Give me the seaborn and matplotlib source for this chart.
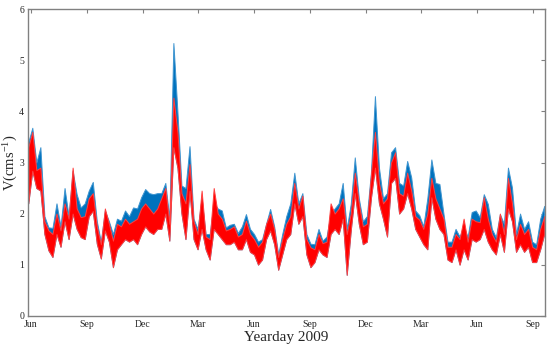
import numpy as np
import pandas as pd
import matplotlib
matplotlib.use("Agg")
import matplotlib.pyplot as plt
import seaborn as sns

# sampling grid in yearday 2009 (one sample every ~6.6 days)
days = 147.5 + 6.6 * np.arange(129)

# upper edge of the blue record
blue_hi = [3.4, 3.68, 3.0, 3.3, 1.95, 1.73, 1.72, 2.2, 1.75, 2.5, 1.95, 2.84, 2.38, 2.12, 2.2, 2.45,
           2.62, 1.85, 1.45, 2.06, 1.85, 1.6, 1.9, 1.86, 2.06, 1.95, 2.12, 2.1, 2.32, 2.48, 2.4, 2.38,
           2.4, 2.4, 2.6, 1.9, 5.34, 4.0, 2.55, 2.5, 3.32, 1.9, 1.7, 2.3, 1.6, 1.6, 2.2, 2.1,
           2.06, 1.73, 1.78, 1.8, 1.62, 1.75, 1.99, 1.7, 1.6, 1.45, 1.5, 1.8, 2.09, 1.75, 1.2, 1.6,
           1.95, 2.2, 2.8, 2.2, 2.4, 1.6, 1.41, 1.4, 1.7, 1.47, 1.55, 2.0, 2.1, 2.2, 2.6, 1.7,
           2.19, 3.1, 2.3, 1.85, 1.95, 2.8, 4.3, 2.9, 2.3, 2.4, 3.2, 3.3, 2.6, 2.55, 3.03, 2.71,
           2.06, 1.97, 1.75, 2.3, 3.06, 2.6, 2.58, 2.0, 1.45, 1.45, 1.7, 1.55, 1.75, 1.54, 2.03, 2.06,
           1.93, 2.38, 2.19, 1.7, 1.54, 1.99, 1.8, 2.9, 2.51, 1.6, 2.0, 1.7, 1.85, 1.45, 1.4, 1.9,
           2.15]

# upper and lower edges of the red record
red_hi = [3.3, 3.6, 2.85, 2.9, 1.85, 1.67, 1.6, 2.0, 1.67, 2.2, 1.9, 2.9, 2.1, 1.93, 1.95, 2.3,
          2.4, 1.75, 1.4, 2.1, 1.8, 1.47, 1.8, 1.75, 1.9, 1.8, 1.85, 1.9, 2.1, 2.2, 2.1, 2.0,
          2.1, 2.3, 2.5, 1.8, 4.27, 3.6, 2.4, 2.2, 2.97, 1.85, 1.6, 2.45, 1.55, 1.5, 2.5, 2.0,
          1.9, 1.67, 1.7, 1.75, 1.55, 1.6, 1.86, 1.6, 1.5, 1.35, 1.45, 1.8, 2.0, 1.7, 1.15, 1.5,
          1.8, 1.95, 2.6, 2.1, 2.35, 1.5, 1.34, 1.3, 1.6, 1.42, 1.45, 2.2, 2.0, 2.1, 2.3, 1.6,
          2.0, 2.8, 2.2, 1.75, 1.8, 2.75, 3.6, 2.6, 2.2, 2.3, 3.0, 3.2, 2.4, 2.35, 2.8, 2.45,
          1.95, 1.88, 1.7, 2.0, 2.7, 2.3, 2.1, 1.9, 1.35, 1.35, 1.6, 1.5, 1.9, 1.45, 1.9, 1.85,
          1.83, 2.32, 1.9, 1.6, 1.45, 2.0, 1.6, 2.7, 2.2, 1.5, 1.8, 1.6, 1.7, 1.35, 1.3, 1.7,
          1.95]

red_lo = [2.2, 2.84, 2.5, 2.45, 1.6, 1.28, 1.15, 1.6, 1.35, 1.85, 1.5, 2.0, 1.7, 1.54, 1.5, 1.95,
          2.05, 1.41, 1.12, 1.67, 1.45, 0.95, 1.3, 1.4, 1.5, 1.45, 1.5, 1.4, 1.6, 1.75, 1.65, 1.6,
          1.7, 1.7, 2.0, 1.47, 3.3, 2.9, 2.0, 1.5, 2.45, 1.5, 1.3, 1.7, 1.3, 1.1, 1.7, 1.6,
          1.5, 1.4, 1.4, 1.45, 1.3, 1.3, 1.5, 1.25, 1.2, 1.0, 1.1, 1.5, 1.67, 1.4, 0.9, 1.2,
          1.5, 1.6, 2.2, 1.8, 1.95, 1.2, 0.95, 1.05, 1.3, 1.2, 1.15, 1.6, 1.7, 1.6, 1.9, 0.8,
          1.67, 2.4, 1.8, 1.4, 1.45, 2.3, 2.9, 2.2, 1.9, 1.55, 2.6, 2.7, 2.0, 2.1, 2.4, 2.1,
          1.7, 1.55, 1.4, 1.3, 2.32, 1.9, 1.7, 1.6, 1.1, 1.05, 1.3, 1.0, 1.3, 1.1, 1.5, 1.45,
          1.5, 1.7, 1.45, 1.3, 1.2, 1.6, 1.25, 2.1, 1.85, 1.25, 1.4, 1.25, 1.35, 1.05, 1.05, 1.3,
          1.6]

tick_days = [152, 244, 335, 425, 517, 609, 700, 790, 882, 974]
tick_labels = ["Jun", "Sep", "Dec", "Mar", "Jun", "Sep", "Dec", "Mar", "Jun", "Sep"]

blue = "#0072BD"
red = "#FF0000"
grey = "#808080"

sns.set_style("white")
plt.rcParams["font.family"] = ["Liberation Serif", "DejaVu Serif"]
plt.rcParams["mathtext.fontset"] = "custom"
plt.rcParams["mathtext.rm"] = "Liberation Serif"
plt.rcParams["mathtext.it"] = "Liberation Serif:italic"

# long form: each day has its low and high value, the band spans min..max
df_blue = pd.DataFrame({"day": np.concatenate([days, days]),
                        "v": np.concatenate([red_lo, blue_hi])})
df_red = pd.DataFrame({"day": np.concatenate([days, days]),
                       "v": np.concatenate([red_lo, red_hi])})

fig = plt.figure(figsize=(5.5, 3.47), dpi=100)
ax = fig.add_axes([0.0513, 0.0902, 0.9392, 0.883])

for d, c, edge in [(df_blue, blue, "#3f95d0"), (df_red, red, "#ff4040")]:
    sns.lineplot(data=d, x="day", y="v", estimator="mean", errorbar=("pi", 100),
                 color=c, linewidth=0, ax=ax,
                 err_kws={"alpha": 1, "linewidth": 0.7, "edgecolor": edge})

ax.set_xlim(147.4, 993.2)
ax.set_ylim(0, 6)
ax.set_xticks(tick_days)
ax.set_xticklabels(tick_labels)
ax.set_yticks(range(7))
ax.tick_params(direction="in", top=True, right=True, length=3, width=0.8,
               color=grey, labelsize=7, labelcolor="#262626", pad=3)
for s in ax.spines.values():
    s.set_color(grey)
    s.set_linewidth(1.0)

ax.set_xlabel("Yearday 2009", fontsize=11, color="#262626", labelpad=1.5)
ax.set_ylabel("V(cms$^{-1}$)", fontsize=10.5, color="#262626", labelpad=-1)

fig.savefig("out.png", dpi=100)
